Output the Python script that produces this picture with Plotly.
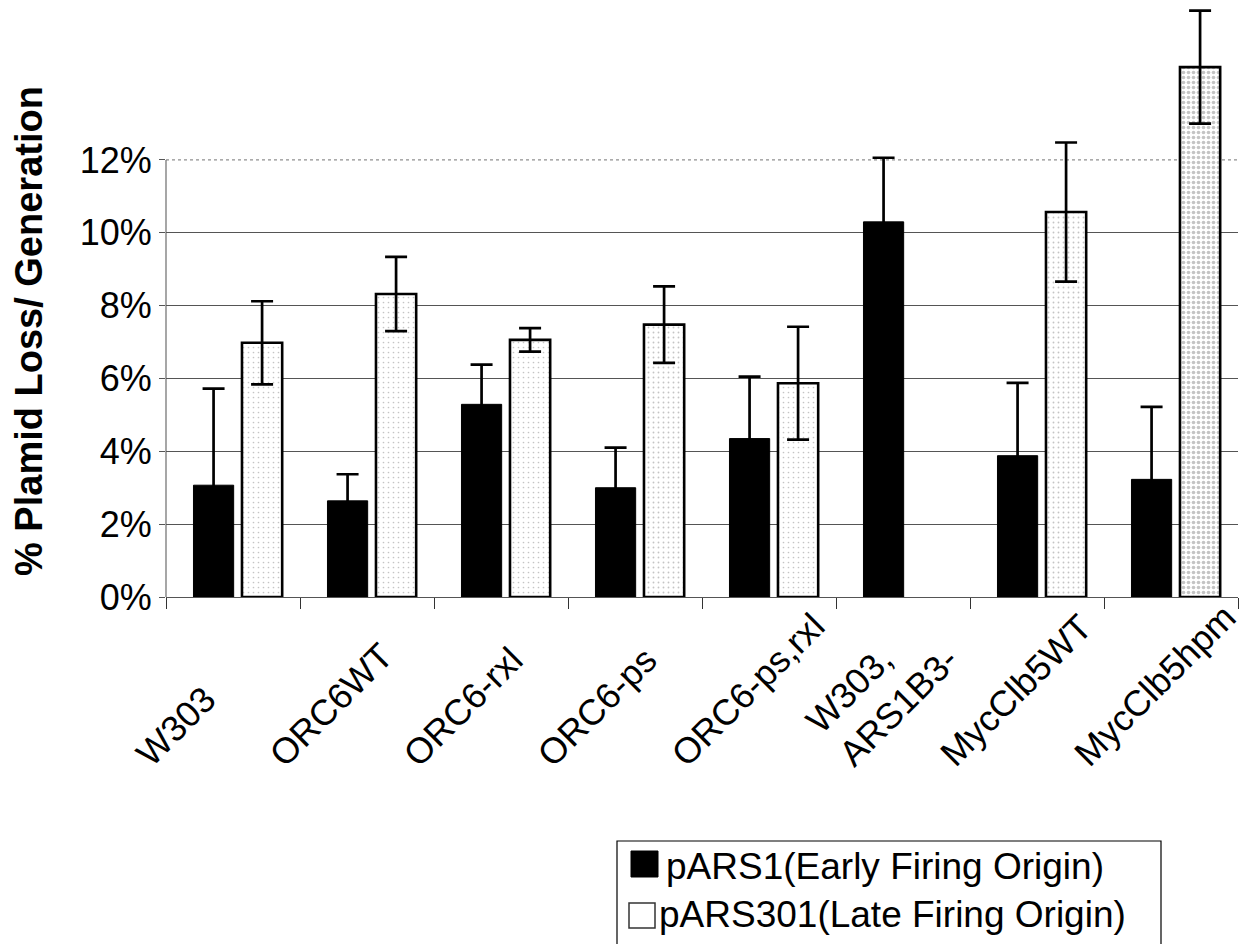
import plotly.graph_objects as go

categories = ["W303", "ORC6WT", "ORC6-rxl", "ORC6-ps", "ORC6-ps,rxl",
              "W303,<br>ARS1B3-", "MycClb5WT", "MycClb5hpm"]
tick_labels = ["W303", "ORC6WT", "ORC6-rxl", "ORC6-ps", "ORC6-ps,rxl",
               "W303,<br>ARS1B3-", "MycClb5WT", "MycClb5hpm"]

early_vals = [3.07, 2.64, 5.29, 3.00, 4.35, 10.30, 3.88, 3.23]
early_err = [2.65, 0.73, 1.09, 1.10, 1.70, 1.76, 2.00, 1.99]

late_vals = [6.98, 8.32, 7.06, 7.48, 5.87, None, 10.57, 14.55]
late_err = [1.14, 1.02, 0.32, 1.05, 1.55, None, 1.91, 1.55]

series_names = ["pARS1(Early Firing Origin)", "pARS301(Late Firing Origin)"]

y_ticks = [0, 2, 4, 6, 8, 10, 12]
y_tick_text = ["0%", "2%", "4%", "6%", "8%", "10%", "12%"]
grid_vals = [2, 4, 6, 8, 10]

FONT = "Liberation Sans, Arial, sans-serif"
W, H = 1252, 944
L, R, T, B = 166, 14, 0, 347
pw, ph = W - L - R, H - T - B
PX_PER_UNIT = 36.42
Y_TOP = ph / PX_PER_UNIT


def px_x(x):
    return (x - L) / pw


def px_y(y):
    return (H - B - y) / ph


fig = go.Figure()

fig.add_trace(go.Bar(
    x=categories, y=early_vals,
    name=series_names[0], showlegend=False,
    width=0.30, offset=-0.295,
    marker=dict(color="black", line=dict(color="black", width=1)),
    error_y=dict(type="data", array=early_err, visible=True,
                 color="black", thickness=2.7, width=11),
))

late_solidity = [0.09, 0.09, 0.09, 0.11, 0.09, 0.09, 0.11, 0.42]
fig.add_trace(go.Bar(
    x=categories, y=late_vals,
    name=series_names[1], showlegend=False,
    width=0.30, offset=0.067,
    marker=dict(color="white", line=dict(color="black", width=2.6),
                pattern=dict(shape=".", fgcolor="#8a8a8a", bgcolor="white",
                             size=5, solidity=late_solidity)),
    error_y=dict(type="data", array=late_err, visible=True,
                 color="black", thickness=2.7, width=11),
))

annotations = []
for cat, lab in zip(categories, tick_labels):
    annotations.append(dict(
        x=cat, xref="x", xshift=-108, xanchor="left",
        y=px_y(777), yref="paper", yanchor="bottom",
        text=lab, textangle=-45, showarrow=False, align="left",
        font=dict(family=FONT, size=36, color="black"),
    ))

annotations.append(dict(
    x=px_x(29), xref="paper", xanchor="center",
    y=px_y(331), yref="paper", yanchor="middle",
    text="<b>% Plamid Loss/ Generation</b>", textangle=-90, showarrow=False,
    font=dict(family=FONT, size=38, color="black"),
))

# manual legend text
annotations.append(dict(
    x=px_x(664), xref="paper", xanchor="left",
    y=px_y(866), yref="paper", yanchor="middle",
    text=series_names[0], showarrow=False,
    font=dict(family=FONT, size=37, color="black"),
))
annotations.append(dict(
    x=px_x(657), xref="paper", xanchor="left",
    y=px_y(915), yref="paper", yanchor="middle",
    text=series_names[1], showarrow=False,
    font=dict(family=FONT, size=37, color="black"),
))

shapes = [
    # dotted top border of plot area at 12%
    dict(type="line", xref="paper", yref="y", x0=0, x1=1, y0=12, y1=12,
         line=dict(color="#909090", width=1.2, dash="dot"), layer="below"),
    # left axis line (0..12%)
    dict(type="line", xref="paper", yref="y", x0=0, x1=0, y0=0, y1=12,
         line=dict(color="#777", width=1.3), layer="below"),
    # legend frame
    dict(type="rect", xref="paper", yref="paper",
         x0=px_x(617), x1=px_x(1161), y0=px_y(841), y1=px_y(960),
         line=dict(color="black", width=1.2), fillcolor="rgba(0,0,0,0)"),
    # legend swatches
    dict(type="rect", xref="paper", yref="paper",
         x0=px_x(631), x1=px_x(658), y0=px_y(851), y1=px_y(877),
         line=dict(color="black", width=1), fillcolor="black"),
    dict(type="rect", xref="paper", yref="paper",
         x0=px_x(629), x1=px_x(655), y0=px_y(903), y1=px_y(928),
         line=dict(color="#333", width=1.5), fillcolor="white"),
]

fig.update_layout(
    width=W, height=H,
    margin=dict(l=L, r=R, t=T, b=B),
    paper_bgcolor="white", plot_bgcolor="white",
    barmode="group",
    showlegend=False,
    annotations=annotations,
    shapes=shapes,
    font=dict(family=FONT, color="black"),
)

fig.update_xaxes(
    type="category", categoryorder="array", categoryarray=categories,
    range=[-0.5, len(categories) - 0.5],
    showticklabels=False, ticks="outside", tickson="boundaries",
    ticklen=11, tickwidth=1.2, tickcolor="#333",
    showline=True, linecolor="#555", linewidth=1.2,
    showgrid=False, zeroline=False,
)

fig.update_yaxes(
    range=[0, Y_TOP], tickvals=y_ticks, ticktext=y_tick_text,
    ticks="outside", ticklen=6, tickcolor="#555", tickwidth=1,
    tickfont=dict(family=FONT, size=36, color="black"),
    showline=False, showgrid=False, zeroline=False,
    minor=dict(tickvals=grid_vals, showgrid=True,
               gridcolor="#555", gridwidth=1, ticks=""),
)

fig.write_html("out.html")
